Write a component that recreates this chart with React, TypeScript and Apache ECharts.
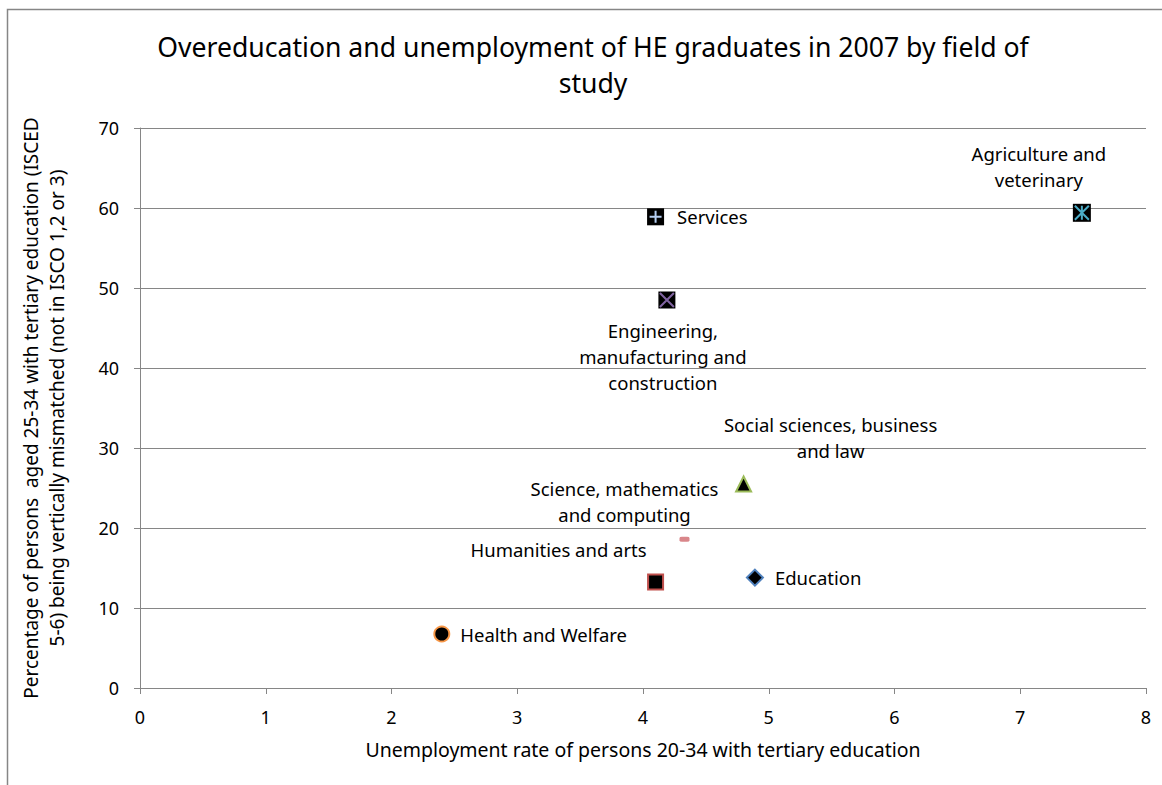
import React, { useEffect, useRef } from "react";
import * as echarts from "echarts";

const titleText = "Overeducation and unemployment of HE graduates in 2007 by field of\nstudy";
const xAxisName = "Unemployment rate of persons 20-34 with tertiary education";
const yAxisName = "Percentage of persons  aged 25-34 with tertiary education (ISCED\n5-6) being vertically mismatched (not in ISCO 1,2 or 3)";

const fields = [
  "Services",
  "Agriculture and\nveterinary",
  "Engineering,\nmanufacturing and\nconstruction",
  "Social sciences, business\nand law",
  "Science, mathematics\nand computing",
  "Humanities and arts",
  "Education",
  "Health and Welfare",
];
const unemployment = [4.1, 7.49, 4.19, 4.8, 4.33, 4.1, 4.89, 2.4];
const mismatch = [58.9, 59.4, 48.5, 25.5, 18.6, 13.25, 13.8, 6.75];

const FONT = "Noto Sans";
const FS = 18.5;

export default function App() {
  const ref = useRef<HTMLDivElement>(null);
  useEffect(() => {
    const chart = echarts.init(ref.current!, null, { renderer: "svg" });

    const lbl = (position: any, offset: number[], extra: any = {}) => ({
      show: true,
      position,
      offset,
      color: "#000",
      fontFamily: FONT,
      fontSize: FS,
      lineHeight: 26,
      align: "center",
      formatter: "{b}",
      ...extra,
    });

    const pt = (i: number) => ({ name: fields[i], value: [unemployment[i], mismatch[i]] });

    const series: any[] = [
      {
        type: "scatter",
        symbol: "rect",
        symbolSize: 17,
        itemStyle: { color: "#000", opacity: 1 },
        data: [pt(0)],
        label: lbl("right", [0, 0], { align: "left", distance: 13 }),
      },
      {
        type: "scatter",
        symbol: "path://M0,5L10,5M5,0L5,10",
        symbolSize: 12,
        itemStyle: { color: "none", borderColor: "#b4cdf0", borderWidth: 2, opacity: 1 },
        data: [pt(0)],
        silent: true,
      },
      {
        type: "scatter",
        symbol: "rect",
        symbolSize: 18,
        itemStyle: { color: "#000", opacity: 1 },
        data: [pt(1)],
        label: lbl("top", [-43, -6]),
      },
      {
        type: "scatter",
        symbol: "path://M0,0L10,10M10,0L0,10M5,0L5,10",
        symbolSize: 14,
        itemStyle: { color: "none", borderColor: "#4bacc6", borderWidth: 2, opacity: 1 },
        data: [pt(1)],
        silent: true,
      },
      {
        type: "scatter",
        symbol: "rect",
        symbolSize: 17,
        itemStyle: { color: "#000", opacity: 1 },
        data: [pt(2)],
        label: lbl("bottom", [-4, 4]),
      },
      {
        type: "scatter",
        symbol: "path://M0,0L10,10M10,0L0,10",
        symbolSize: 14,
        itemStyle: { color: "none", borderColor: "#8064a2", borderWidth: 2, opacity: 1 },
        data: [pt(2)],
        silent: true,
      },
      {
        type: "scatter",
        symbol: "triangle",
        symbolSize: 15,
        itemStyle: { color: "#000", borderColor: "#9bbb59", borderWidth: 2, opacity: 1 },
        data: [pt(3)],
        label: lbl("top", [87, -7]),
      },
      {
        type: "scatter",
        symbol: "roundRect",
        symbolSize: [10, 5],
        itemStyle: { color: "#d9868a", opacity: 1 },
        data: [pt(4)],
        label: lbl("top", [-60, -4]),
      },
      {
        type: "scatter",
        symbol: "rect",
        symbolSize: 15,
        itemStyle: { color: "#000", borderColor: "#c0504d", borderWidth: 2, opacity: 1 },
        data: [pt(5)],
        label: lbl("top", [-97, -6]),
      },
      {
        type: "scatter",
        symbol: "diamond",
        symbolSize: 16,
        itemStyle: { color: "#000", borderColor: "#4f81bd", borderWidth: 2, opacity: 1 },
        data: [pt(6)],
        label: lbl("right", [0, 0], { align: "left", distance: 11 }),
      },
      {
        type: "scatter",
        symbol: "circle",
        symbolSize: 15,
        itemStyle: { color: "#000", borderColor: "#f79646", borderWidth: 2, opacity: 1 },
        data: [pt(7)],
        label: lbl("right", [0, 0], { align: "left", distance: 10 }),
      },
    ];

    chart.setOption({
      animation: false,
      backgroundColor: "#fff",
      title: {
        text: titleText,
        left: 588,
        top: 24,
        textAlign: "center",
        textStyle: {
          fontFamily: FONT,
          fontSize: 26.6,
          fontWeight: "normal",
          color: "#000",
          lineHeight: 36,
        },
      },
      graphic: [
        {
          type: "rect",
          shape: { x: 7.5, y: 9.5, width: 1170, height: 800 },
          style: { fill: "none", stroke: "#868686", lineWidth: 1.5 },
          silent: true,
        },
      ],
      grid: { left: 140, right: 16, top: 128, bottom: 97 },
      xAxis: {
        type: "value",
        min: 0,
        max: 8,
        interval: 1,
        name: xAxisName,
        nameLocation: "middle",
        nameGap: 51,
        nameTextStyle: { fontFamily: FONT, fontSize: 19.5, color: "#000" },
        axisLine: { show: true, lineStyle: { color: "#868686", width: 1 } },
        axisTick: { show: true, length: 6, lineStyle: { color: "#868686" } },
        axisLabel: { fontFamily: FONT, fontSize: 18, color: "#000", margin: 20 },
        splitLine: { show: false },
      },
      yAxis: {
        type: "value",
        min: 0,
        max: 70,
        interval: 10,
        name: yAxisName,
        nameLocation: "middle",
        nameGap: 70,
        nameRotate: 90,
        nameTextStyle: { fontFamily: FONT, fontSize: 19, color: "#000", lineHeight: 26, align: "center" },
        axisLine: { show: true, lineStyle: { color: "#868686", width: 1 } },
        axisTick: { show: true, length: 6, lineStyle: { color: "#868686" } },
        axisLabel: { fontFamily: FONT, fontSize: 18, color: "#000", margin: 21 },
        splitLine: { show: true, lineStyle: { color: "#868686", width: 1 } },
      },
      series,
    });
    return () => chart.dispose();
  }, []);
  return (
    <div
      ref={ref}
      style={{ position: "fixed", left: 0, top: 0, width: 1162, height: 785, background: "#fff" }}
    />
  );
}
